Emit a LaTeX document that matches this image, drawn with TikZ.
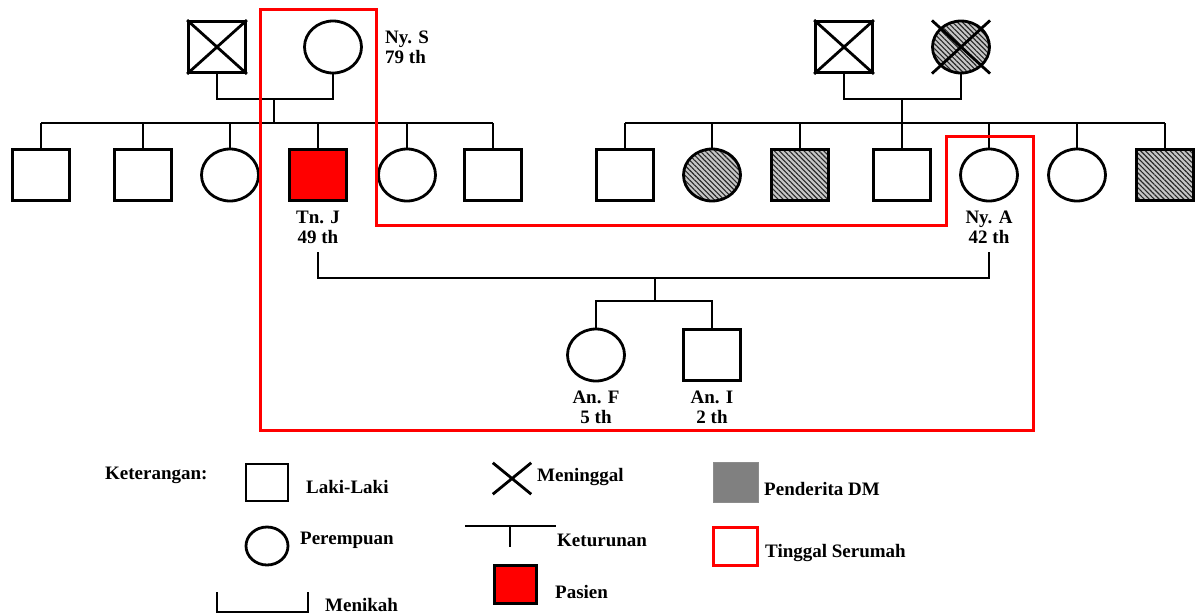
\documentclass[tikz,border=0pt]{standalone}
\usepackage{fontspec}
\setmainfont{Liberation Serif}
\usetikzlibrary{patterns.meta,shapes.geometric,calc}
\begin{document}
\begin{tikzpicture}[x=1pt,y=-1pt,
  every node/.style={font=\fontsize{19}{20}\selectfont\bfseries,inner sep=0pt},
  ln/.style={line width=2.8pt},
  male/.style={draw,ln,rectangle,minimum width=57pt,minimum height=51pt},
  female/.style={draw,ln,ellipse,minimum width=57pt,minimum height=52pt},
  dm/.style={preaction={fill=gray!45},pattern={Lines[angle=-45,distance=3.5pt,line width=1.1pt]},pattern color=black!85},
  pasien/.style={fill=red},
  lbl/.style={align=center},
  txt/.style={anchor=west},
  serumah/.style={draw=red,line width=3pt}]
\useasboundingbox (0,0) rectangle (1198,614);

% Generation 1 left
\node[male] (gf1) at (217,47) {};
\node[female] (gm1) at (333,47) {};
\draw[ln] (gf1.north west) -- (gf1.south east) (gf1.south west) -- (gf1.north east);
\node[lbl,anchor=west,align=left] (nys) at (385,47) {Ny. S\\79 th};

% Generation 1 right
\node[male] (gf2) at (844,47) {};
\node[female,dm] (gm2) at (961,47) {};
\draw[ln] (gf2.north west) -- (gf2.south east) (gf2.south west) -- (gf2.north east);
\draw[ln] (gm2.west |- gm2.north) -- (gm2.east |- gm2.south) (gm2.west |- gm2.south) -- (gm2.east |- gm2.north);

% Generation 2 left
\node[male] (a1) at (41,175) {};
\node[male] (a2) at (143,175) {};
\node[female] (a3) at (230,175) {};
\node[male,pasien] (tnj) at (318,175) {};
\node[female] (a5) at (407,175) {};
\node[male] (a6) at (493,175) {};
\node[lbl] (tnjl) at (318,227) {Tn. J\\49 th};

% Generation 2 right
\node[male] (b1) at (625,175) {};
\node[female,dm] (b2) at (712,175) {};
\node[male,dm] (b3) at (800,175) {};
\node[male] (b4) at (902,175) {};
\node[female] (nya) at (989,175) {};
\node[female] (b6) at (1077,175) {};
\node[male,dm] (b7) at (1165,175) {};
\node[lbl] (nyal) at (989,227) {Ny. A\\42 th};

% Generation 3
\node[female] (anf) at (596,355) {};
\node[male] (ani) at (712,355) {};
\node[lbl] (anfl) at (596,407) {An. F\\5 th};
\node[lbl] (anil) at (712,407) {An. I\\2 th};

% connectors gen1 left
\coordinate (m1) at (274,98);
\coordinate (s1) at (274,123);
\draw[ln] (gf1.south) -- ++(0,25) -| (gm1.south);
\draw[ln] (m1) -- (s1);
\draw[ln] (a1.north |- s1) -- (a6.north |- s1);
\foreach \n in {a1,a2,a3,tnj,a5,a6} \draw[ln] (\n.north) -- (\n.north |- s1);

% connectors gen1 right
\coordinate (m2) at (902,98);
\coordinate (s2) at (902,123);
\draw[ln] (gf2.south) -- ++(0,25) -| (gm2.south);
\draw[ln] (m2) -- (s2);
\draw[ln] (b1.north |- s2) -- (b7.north |- s2);
\foreach \n in {b1,b2,b3,b4,nya,b6,b7} \draw[ln] (\n.north) -- (\n.north |- s2);

% marriage Tn. J - Ny. A
\coordinate (mj) at (318,252);
\coordinate (ma) at (989,252);
\coordinate (d2) at (655,278);
\coordinate (s3) at (655,301);
\draw[ln] (mj) -- ++(0,26) -| (ma);
\draw[ln] (d2) -- (s3);
\draw[ln] (anf.north) -- (anf.north |- s3) -- (ani.north |- s3) -- (ani.north);

% living together
\draw[serumah] (260,9) -- (376,9) -- (376,225) -- (946,225) -- (946,136) -- (1033,136) -- (1033,430) -- (260,430) -- cycle;

% Legend
\node[txt] (ket) at (105,475) {Keterangan:};
\node[draw,ln,rectangle,minimum width=42pt,minimum height=37pt] (lm) at (267,482.5) {};
\node[txt] (lmt) at (306,487) {Laki-Laki};
\node[draw,ln,ellipse,minimum width=42pt,minimum height=38pt] (lf) at (267,546) {};
\node[txt] (lft) at (300,540) {Perempuan};
\coordinate (mk1) at (217,592);
\coordinate (mk2) at (308,592);
\draw[ln] (mk1) -- ++(0,20) -| (mk2);
\node[txt] (mkt) at (325,605) {Menikah};
\node[minimum width=38pt,minimum height=31pt] (lx) at (512,478.5) {};
\draw[ln] (lx.north west) -- (lx.south east) (lx.south west) -- (lx.north east);
\node[txt] (lxt) at (537,477) {Meninggal};
\coordinate (k1) at (465,526);
\coordinate (k2) at (556,526);
\coordinate (k3) at (510,526);
\coordinate (k4) at (510,547);
\draw[line width=2.2pt] (k1) -- (k2) (k3) -- (k4);
\node[txt] (kt) at (557,540) {Keturunan};
\node[draw,ln,fill=red,minimum width=42pt,minimum height=38pt] (lp) at (515.5,584.5) {};
\node[txt] (lpt) at (555,592) {Pasien};
\node[fill=black!50,draw=black!45,minimum width=45pt,minimum height=40pt] (ldm) at (735.5,482) {};
\node[txt] (ldmt) at (764,489) {Penderita DM};
\node[serumah,minimum width=44pt,minimum height=38pt] (lts) at (735.5,546.5) {};
\node[txt] (ltst) at (765,553) {Tinggal Serumah};
\end{tikzpicture}
\end{document}
